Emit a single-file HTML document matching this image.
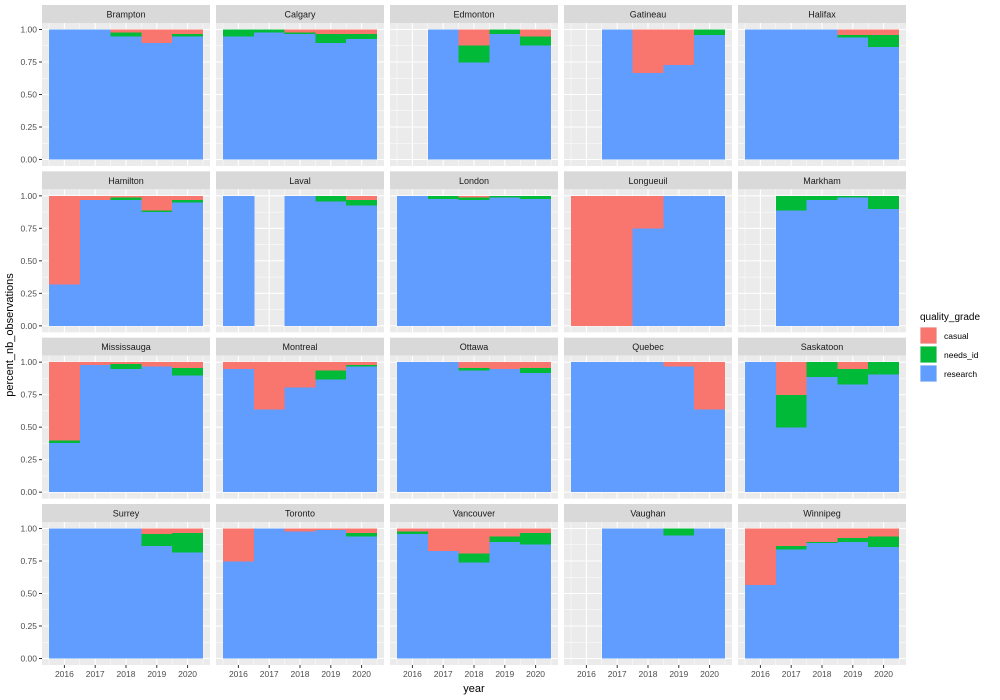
<!DOCTYPE html>
<html><head><meta charset="utf-8"><style>
body{margin:0;background:#fff;}
svg{display:block;font-family:"Liberation Sans",Arial,sans-serif;}
</style></head><body>
<svg id="chart" width="1000" height="700" xmlns="http://www.w3.org/2000/svg"></svg>
<script>
const cities = ["Brampton","Calgary","Edmonton","Gatineau","Halifax","Hamilton","Laval","London","Longueuil","Markham","Mississauga","Montreal","Ottawa","Quebec","Saskatoon","Surrey","Toronto","Vancouver","Vaughan","Winnipeg"];
const years = [2016,2017,2018,2019,2020];
const yTicks = [0,0.25,0.5,0.75,1];
const yTickLabels = ["0.00","0.25","0.50","0.75","1.00"];
const grades = ["casual","needs_id","research"];
// values per city: [research, needs_id, casual] per year; null = no data
const research = [
[1,1,.95,.90,.95],[.95,.98,.97,.90,.93],[null,1,.75,.97,.88],[null,1,.67,.73,.96],[1,1,1,.94,.87],
[.32,.97,.97,.88,.95],[1,null,1,.96,.93],[1,.98,.97,.99,.98],[0,0,.75,1,1],[null,.89,.97,.99,.90],
[.38,.98,.95,.97,.90],[.95,.64,.81,.87,.97],[1,1,.94,.95,.92],[1,1,1,.97,.64],[1,.50,.89,.83,.91],
[1,1,1,.87,.82],[.75,1,.98,.99,.94],[.96,.83,.74,.90,.88],[null,1,1,.95,1],[.57,.84,.89,.90,.86]];
const needsId = [
[0,0,.03,0,.02],[.05,.02,.01,.07,.04],[null,0,.13,.03,.07],[null,0,0,0,.04],[0,0,0,.02,.09],
[0,0,.02,.01,.02],[0,null,0,.04,.04],[0,.02,.02,.01,.02],[0,0,0,0,0],[null,.11,.03,.01,.10],
[.02,0,.04,0,.06],[0,0,0,.07,.01],[0,0,.02,0,.04],[0,0,0,0,0],[0,.25,.11,.12,.09],
[0,0,0,.09,.15],[0,0,0,0,.03],[.02,0,.07,.04,.09],[null,0,0,.05,0],[0,.03,.01,.03,.08]];
const casual = [
[0,0,.02,.10,.03],[0,0,.02,.03,.03],[null,0,.12,0,.05],[null,0,.33,.27,0],[0,0,0,.04,.04],
[.68,.03,.01,.11,.03],[0,null,0,0,.03],[0,0,.01,0,0],[1,1,.25,0,0],[null,0,0,0,0],
[.60,.02,.01,.03,.04],[.05,.36,.19,.06,.02],[0,0,.04,.05,.04],[0,0,0,.03,.36],[0,.25,0,.05,0],
[0,0,0,.04,.03],[.25,0,.02,.01,.03],[.02,.17,.19,.06,.03],[null,0,0,0,0],[.43,.13,.10,.07,.06]];

const NS="http://www.w3.org/2000/svg";
const svg=document.getElementById('chart');
function el(tag,attrs,parent,text){const e=document.createElementNS(NS,tag);for(const k in attrs)e.setAttribute(k,attrs[k]);if(text!==undefined)e.textContent=text;(parent||svg).appendChild(e);return e;}
const colors={casual:"#F8766D",needs_id:"#00BA38",research:"#619CFF"};
const colX=[42,216,390,564,738], PW=168, PH=143, SH=18;
const rowTop=[5,171.33,337.67,504];
function xs(px,y){return px+7+(y-2015.5)*30.8;}
function ys(py,v){return py+PH-6.5-v*130;}
cities.forEach((city,i)=>{
  const c=i%5,r=Math.floor(i/5);
  const px=colX[c], st=rowTop[r], py=st+SH;
  const g=el('g',{});
  
  
  const strip=el('rect',{x:px,y:st,width:PW,height:SH,fill:'#D9D9D9'},g);
  
  
  el('text',{x:px+PW/2,y:st+12.5,'text-anchor':'middle','font-size':'9','fill':'#1A1A1A'},g,city);
  el('rect',{x:px,y:py,width:PW,height:PH,fill:'#EBEBEB'},g);
  for(let v=0.125;v<1.1;v+=0.25){const y=ys(py,v);el('line',{x1:px,x2:px+PW,y1:y,y2:y,stroke:'#fff','stroke-width':0.5},g);}
  for(let k=0;k<=5;k++){const x=xs(px,2015.5+k);el('line',{x1:x,x2:x,y1:py,y2:py+PH,stroke:'#fff','stroke-width':0.5},g);}
  yTicks.forEach(v=>{const y=ys(py,v);el('line',{x1:px,x2:px+PW,y1:y,y2:y,stroke:'#fff','stroke-width':1.1},g);});
  years.forEach(yr=>{const x=xs(px,yr);el('line',{x1:x,x2:x,y1:py,y2:py+PH,stroke:'#fff','stroke-width':1.1},g);});
  years.forEach((yr,j)=>{
    if(research[i][j]===null)return;
    const vals=[["research",research[i][j]],["needs_id",needsId[i][j]],["casual",casual[i][j]]];
    let base=0;
    vals.forEach(([gname,v])=>{
      if(v>0){
        const y1=ys(py,base+v),y0=ys(py,base);
        const b=el('rect',{x:xs(px,yr-0.5),y:y1,width:j===4?30.8:31.4,height:y0-y1+(base>0?0.4:0),fill:colors[gname],'shape-rendering':'crispEdges'},g);
        
        
      }
      base+=v;
    });
  });
  if(c===0){
    yTicks.forEach((v,k)=>{const y=ys(py,v);
      el('line',{x1:px-3,x2:px,y1:y,y2:y,stroke:'#333','stroke-width':1},g);
      el('text',{x:px-5,y:y+3,'text-anchor':'end','font-size':'8.5',fill:'#4D4D4D'},g,yTickLabels[k]);});
  }
  if(r===3){
    years.forEach(yr=>{const x=xs(px,yr);
      el('line',{x1:x,x2:x,y1:py+PH,y2:py+PH+3,stroke:'#333','stroke-width':1},g);
      el('text',{x:x,y:py+PH+12,'text-anchor':'middle','font-size':'8.5',fill:'#4D4D4D'},g,String(yr));});
  }
});
const xt=el('text',{x:474,y:692,'text-anchor':'middle','font-size':'11',fill:'#000'},svg,'year');

const yt=el('text',{x:0,y:0,transform:'translate(13,335) rotate(-90)','text-anchor':'middle','font-size':'11',fill:'#000'},svg,'percent_nb_observations');

const lg=el('g',{});

el('text',{x:920,y:320,'font-size':'10',fill:'#000'},lg,'quality_grade');
grades.forEach((gname,k)=>{
  const y=327+k*19;
  const e=el('g',{},lg);
  
  
  el('rect',{x:920,y:y,width:17,height:17,fill:'#EBEBEB'},e);
  el('rect',{x:920.5,y:y+0.5,width:16,height:16,fill:colors[gname]},e);
  el('text',{x:944,y:y+12,'font-size':'8.5',fill:'#000'},e,gname);
});
</script>
</body></html>
